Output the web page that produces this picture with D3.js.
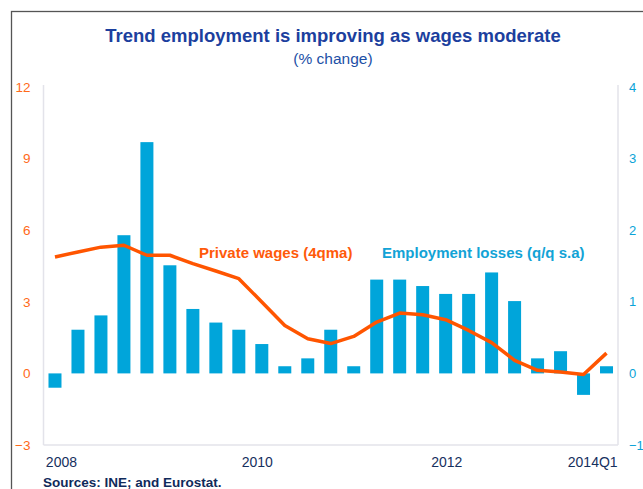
<!DOCTYPE html>
<html>
<head>
<meta charset="utf-8">
<script src="https://cdn.jsdelivr.net/npm/d3@7"></script>
<style>
  body { margin: 0; background: #fff; }
  svg { display: block; font-family: "Liberation Sans", Arial, sans-serif; }
</style>
</head>
<body>
<div id="chart"></div>
<script>
// quarters 2008Q1 .. 2014Q1
var quarters = d3.range(25);

// employment losses, q/q s.a. (right axis)
var employment = [-0.2, 0.61, 0.81, 1.93, 3.23, 1.51, 0.90, 0.71, 0.61, 0.41, 0.10, 0.21, 0.61,
                  0.10, 1.31, 1.31, 1.22, 1.11, 1.11, 1.41, 1.01, 0.21, 0.31, -0.30, 0.10];

// private wages, 4qma (left axis)
var wages = [4.88, 5.09, 5.29, 5.37, 4.95, 4.95, 4.60, 4.29, 3.97, 2.99, 2.01, 1.45, 1.25,
             1.55, 2.15, 2.53, 2.46, 2.25, 1.80, 1.29, 0.55, 0.13, 0.06, -0.05, 0.85];

var leftTicks = [-3, 0, 3, 6, 9, 12];
var rightTicks = [-1, 0, 1, 2, 3, 4];
var xTickLabels = ["2008", "2010", "2012", "2014Q1"];
var xTickPos = [0.28, 8.8, 17.05, 23.4];

function init() {
    var w = 643, h = 489;
    var left = 43.5, right = 618, top = 87, bottom = 445;

    var svg = d3.select("#chart").append("svg")
        .attr("width", w)
        .attr("height", h);

    // outer frame
    svg.append("rect")
        .attr("x", 11.5).attr("y", 11.5)
        .attr("width", 700).attr("height", 600)
        .attr("fill", "none")
        .attr("stroke", "#555")
        .attr("stroke-width", 1.3);

    var x = d3.scaleLinear().domain([-0.5, 24.5]).range([left, right]);
    var yL = d3.scaleLinear().domain([-3, 12]).range([bottom, top]);
    var yR = d3.scaleLinear().domain([-1, 4]).range([bottom, top]);

    // title
    svg.append("text")
        .attr("x", 333).attr("y", 42)
        .attr("text-anchor", "middle")
        .attr("font-size", 18.5).attr("font-weight", "bold")
        .attr("fill", "#1c3f9e")
        .text("Trend employment is improving as wages moderate");
    svg.append("text")
        .attr("x", 333).attr("y", 64)
        .attr("text-anchor", "middle")
        .attr("font-size", 15.5)
        .attr("fill", "#1c4fa6")
        .text("(% change)");

    // plot frame lines (left, right, bottom)
    var frame = "#e3e3ea";
    svg.append("line").attr("x1", left).attr("x2", left).attr("y1", top - 2).attr("y2", bottom)
        .attr("stroke", frame).attr("stroke-width", 1.5);
    svg.append("line").attr("x1", right).attr("x2", right).attr("y1", top - 2).attr("y2", bottom)
        .attr("stroke", frame).attr("stroke-width", 1.5);
    svg.append("line").attr("x1", left).attr("x2", right).attr("y1", bottom).attr("y2", bottom)
        .attr("stroke", frame).attr("stroke-width", 1.5);

    // left axis
    var axL = svg.append("g")
        .attr("transform", "translate(" + (left - 13) + ",0)")
        .call(d3.axisLeft(yL).tickValues(leftTicks).tickSize(0).tickPadding(0).tickFormat(d3.format("d")));
    axL.select(".domain").remove();
    axL.selectAll("text").attr("fill", "#ff6a1a").attr("font-size", 13.5)
        .attr("font-family", "Liberation Sans, Arial, sans-serif");

    // right axis
    var axR = svg.append("g")
        .attr("transform", "translate(" + (right + 11) + ",0)")
        .call(d3.axisRight(yR).tickValues(rightTicks).tickSize(0).tickPadding(0).tickFormat(d3.format("d")));
    axR.select(".domain").remove();
    axR.selectAll("text").attr("fill", "#0aa3d8").attr("font-size", 13)
        .attr("font-family", "Liberation Sans, Arial, sans-serif");

    // bars
    var bw = 13;
    svg.selectAll("rect.bar")
        .data(employment)
        .enter()
        .append("rect")
        .attr("class", "bar")
        .attr("x", function(d, i) { return x(quarters[i]) - bw / 2; })
        .attr("y", function(d) { return yR(Math.max(0, d)); })
        .attr("width", bw)
        .attr("height", function(d) { return Math.abs(yR(d) - yR(0)); })
        .attr("fill", "#00a5da");

    // wages line
    var line = d3.line()
        .x(function(d, i) { return x(quarters[i]); })
        .y(function(d) { return yL(d); });
    svg.append("path")
        .datum(wages)
        .attr("d", line)
        .attr("fill", "none")
        .attr("stroke", "#ff5500")
        .attr("stroke-width", 3.5)
        .attr("stroke-linejoin", "round");

    // series labels
    svg.append("text")
        .attr("x", 199).attr("y", 258)
        .attr("font-size", 15).attr("font-weight", "bold")
        .attr("fill", "#ff5a0a")
        .text("Private wages (4qma)");
    svg.append("text")
        .attr("x", 382).attr("y", 258)
        .attr("font-size", 15).attr("font-weight", "bold")
        .attr("fill", "#12a3d6")
        .text("Employment losses (q/q s.a)");

    // x labels
    svg.selectAll("text.xlab")
        .data(xTickLabels)
        .enter()
        .append("text")
        .attr("class", "xlab")
        .attr("x", function(d, i) { return x(xTickPos[i]); })
        .attr("y", 467)
        .attr("text-anchor", "middle")
        .attr("font-size", 14)
        .attr("fill", "#16305e")
        .text(function(d) { return d; });

    // source
    svg.append("text")
        .attr("x", 43).attr("y", 487)
        .attr("font-size", 13.5).attr("font-weight", "bold")
        .attr("fill", "#0f2a5a")
        .text("Sources: INE; and Eurostat.");
}
window.onload = init;
</script>
</body>
</html>
